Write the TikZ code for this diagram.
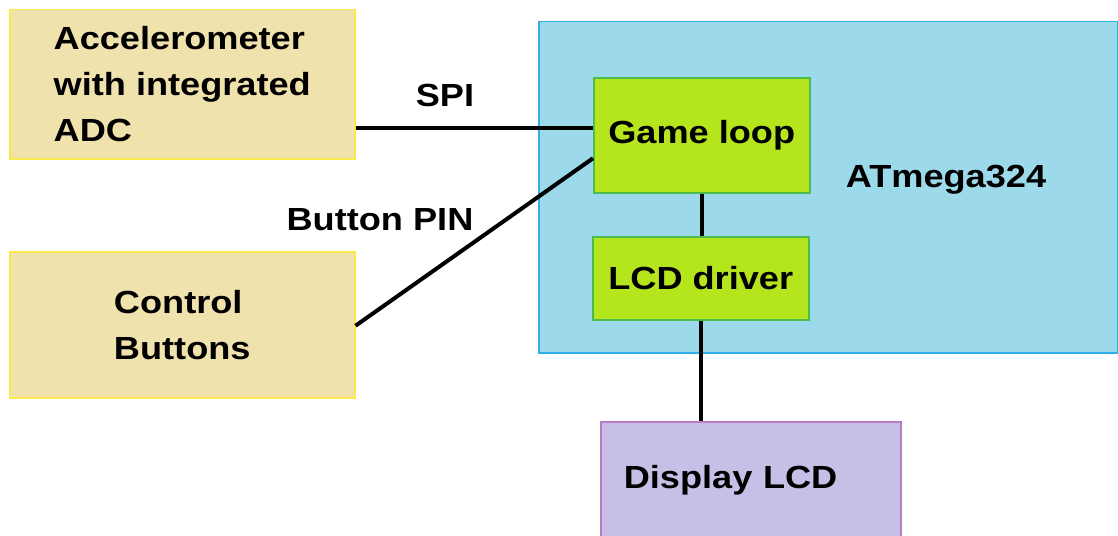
\documentclass[tikz,border=0pt]{standalone}
\usepackage{fontspec}
\setmainfont{Liberation Sans}[FakeStretch=1.13]
\usepackage{tikz}
\usetikzlibrary{positioning}
\definecolor{sensorfill}{HTML}{F0E2AC}
\definecolor{sensorline}{HTML}{FBE94A}
\definecolor{mcufill}{HTML}{9CD9EA}
\definecolor{mculine}{HTML}{2DB0E8}
\definecolor{unitfill}{HTML}{B5E51D}
\definecolor{unitline}{HTML}{4CBB4C}
\definecolor{lcdfill}{HTML}{C8BFE7}
\definecolor{lcdline}{HTML}{B87CC4}

\begin{document}
\begin{tikzpicture}[x=1pt, y=-1pt,
	every node/.style={font=\fontsize{32}{46}\selectfont\bfseries},
	box/.style={line width=1.5pt, anchor=north west, inner sep=0pt},
	sensor/.style={box, draw=sensorline, fill=sensorfill, align=left, minimum width=345pt},
	mcubox/.style={box, draw=mculine, fill=mcufill},
	unit/.style={box, draw=unitline, fill=unitfill, minimum width=216pt},
	lcdbox/.style={box, draw=lcdline, fill=lcdfill, align=left},
	wire/.style={line width=4pt}]

\useasboundingbox (0,0) rectangle (1118,535);
\clip (0,0) rectangle (1118,535);

% microcontroller
\node[mcubox, minimum width=579pt, minimum height=331pt] (mcu) at (538,21) {};
\node (mculabel) at (946,180) {ATmega324};

% inner blocks
\node[unit, minimum height=115pt] (game) at (593,77) {Game loop};
\node[unit, minimum height=83pt] (driver) at (592,236) {LCD driver};

% peripherals
\node[sensor, minimum height=149pt] (accel) at (9,9) {Accelerometer\\with integrated\\ADC};
\node[sensor, minimum height=146pt] (buttons) at (9,251) {Control\\Buttons};
\node[lcdbox, minimum width=300pt, minimum height=130pt, text width=254pt, inner xsep=23pt, text depth=20pt] (display) at (600,421) {Display LCD};

% connections
\coordinate (spi) at ([yshift=7pt]game.west);
\coordinate (pin) at ([yshift=-23pt]game.west);
\draw[wire] (spi -| accel.east) -- (spi);
\draw[wire] ([yshift=-1pt]buttons.east) -- (pin);
\draw[wire] (game.south) -- (game.south |- driver.north);
\draw[wire] (driver.south) -- (driver.south |- display.north);

\node (spilabel) at (445,95) {SPI};
\node (pinlabel) at (380,220) {Button PIN};

\end{tikzpicture}
\end{document}
